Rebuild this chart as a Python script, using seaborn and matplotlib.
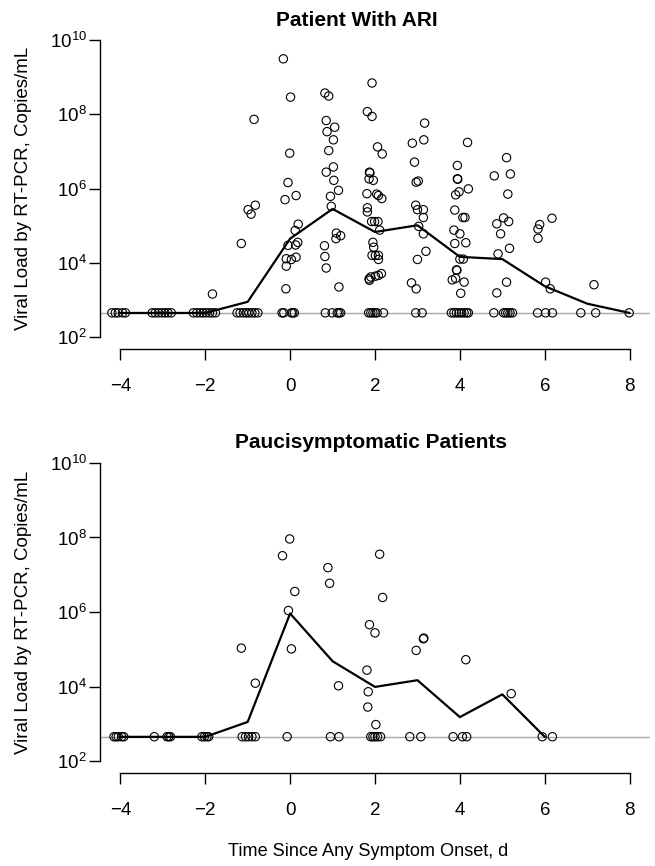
import numpy as np
import pandas as pd
import matplotlib
matplotlib.use("Agg")
import matplotlib.pyplot as plt
import seaborn as sns

# ---------------- data ----------------
LOD = 450  # limit of detection line (copies/mL)

# Patient With ARI: detected samples (day, log10 copies/mL)
ari_day = [-1.83,
           -0.85, -0.82, -0.99, -0.92, -1.15,
           -0.16, 0.01, -0.01, -0.05, -0.12, 0.14, 0.19, 0.12, -0.05, 0.18, 0.13, -0.09, 0.03, 0.14, -0.09, -0.10,
           0.82, 0.91, 0.85, 1.05, 0.87, 1.02, 0.91, 1.02, 0.85, 1.03, 1.14, 0.95, 0.97, 1.09, 1.19, 1.08, 0.81, 0.82, 0.85, 1.15,
           1.93, 1.82, 1.93, 2.06, 2.17, 1.87, 1.88, 1.86, 1.96, 1.81, 2.04, 2.08, 2.16, 1.82, 1.82, 1.92, 1.99, 2.07, 2.11, 1.95,
           1.97, 1.93, 2.01, 2.08, 2.08, 2.15, 2.08, 2.01, 1.90, 1.86, 1.87,
           3.17, 2.88, 3.15, 2.93, 2.97, 3.02, 2.96, 3.00, 3.14, 3.14, 3.03, 3.14, 3.20, 3.00, 2.86, 2.97,
           4.18, 3.94, 3.94, 3.95, 4.20, 3.98, 3.90, 3.88, 4.07, 4.12, 3.86, 4.00, 3.88, 4.14, 4.00, 4.08, 3.92, 3.93, 3.90, 3.82,
           4.10, 4.02,
           5.10, 4.81, 5.19, 5.13, 5.03, 4.87, 5.15, 4.96, 5.17, 4.90, 5.10, 4.87,
           6.17, 5.88, 5.84, 5.84, 6.02, 6.13,
           7.16]
ari_log10 = [3.16,
             7.86, 5.55, 5.43, 5.31, 4.52,
             9.49, 8.46, 6.95, 6.16, 5.70, 5.81, 5.04, 4.87, 4.47, 4.55, 4.48, 4.11, 4.09, 4.15, 3.91, 3.30,
             8.57, 8.49, 7.83, 7.65, 7.53, 7.31, 7.02, 6.58, 6.44, 6.22, 5.95, 5.79, 5.52, 4.80, 4.73, 4.65, 4.46, 4.17, 3.86, 3.35,
             8.84, 8.07, 7.94, 7.12, 6.93, 6.44, 6.42, 6.26, 6.22, 5.86, 5.85, 5.81, 5.73, 5.48, 5.37, 5.11, 5.11, 5.11, 4.88, 4.55,
             4.42, 4.20, 4.20, 4.20, 4.09, 3.71, 3.66, 3.64, 3.62, 3.57, 3.53,
             7.76, 7.22, 7.31, 6.71, 6.17, 6.20, 5.55, 5.43, 5.43, 5.22, 4.98, 4.78, 4.31, 4.09, 3.46, 3.30,
             7.24, 6.62, 6.26, 6.25, 5.99, 5.91, 5.83, 5.42, 5.22, 5.22, 4.88, 4.78, 4.52, 4.54, 4.10, 4.10, 3.81, 3.80, 3.58, 3.54,
             3.48, 3.18,
             6.83, 6.34, 6.39, 5.85, 5.21, 5.05, 5.11, 4.78, 4.39, 4.24, 3.48, 3.19,
             5.20, 5.03, 4.91, 4.66, 3.48, 3.30,
             3.41]
# Patient With ARI: samples below detection (plotted at LOD)
ari_nd_day = [-4.20, -4.12, -4.05, -3.95, -3.88,
              -3.25, -3.18, -3.10, -3.02, -2.95, -2.88, -2.80,
              -2.28, -2.20, -2.12, -2.05, -1.98, -1.90, -1.83, -1.76,
              -1.25, -1.18, -1.10, -1.03, -0.97, -0.90, -0.83, -0.76,
              -0.19, -0.15, 0.03, 0.06, 0.10,
              0.83, 0.99, 1.11, 1.15, 1.19,
              1.85, 1.90, 1.95, 2.00, 2.05, 2.20,
              2.96, 3.11,
              3.80, 3.86, 3.92, 3.98, 4.04, 4.10, 4.16, 4.20,
              4.80, 5.03, 5.08, 5.13, 5.18, 5.24,
              5.83, 6.02, 6.18,
              6.85, 7.20,
              7.99]
# Patient With ARI: median by day
ari_med_day = [-4, -3, -2, -1, 0, 1, 2, 3, 4, 5, 6, 7, 8]
ari_med_log10 = [2.65, 2.65, 2.65, 2.95, 4.65, 5.45, 4.83, 5.01, 4.16, 4.10, 3.37, 2.90, 2.65]

# Paucisymptomatic Patients: detected samples
pau_day = [-1.15, -0.82, -0.01, -0.18, 0.11, -0.04, 0.03, 0.89, 0.93, 1.14,
           2.11, 2.18, 1.87, 2.00, 1.81, 1.84, 1.83, 2.02, 3.15, 3.14, 2.97, 4.14, 5.21]
pau_log10 = [5.03, 4.09, 7.96, 7.51, 6.55, 6.04, 5.01, 7.19, 6.77, 4.02,
             7.55, 6.39, 5.66, 5.44, 4.44, 3.86, 3.45, 2.98, 5.30, 5.28, 4.97, 4.72, 3.81]
pau_nd_day = [-4.15, -4.10, -4.05, -3.97, -3.92, -3.20, -2.90, -2.86, -2.82,
              -2.08, -2.02, -1.96, -1.92, -1.13, -1.05, -0.98, -0.90, -0.82,
              -0.07, 0.95, 1.15, 1.90, 1.95, 2.00, 2.06, 2.13, 2.82, 3.08,
              3.84, 4.06, 4.16, 5.94, 6.18]
pau_med_day = [-4, -3, -2, -1, 0, 1, 2, 3, 4, 5, 6]
pau_med_log10 = [2.65, 2.65, 2.65, 3.05, 5.96, 4.68, 3.99, 4.17, 3.18, 3.79, 2.65]

x_ticks = [-4, -2, 0, 2, 4, 6, 8]
y_ticks = [1e2, 1e4, 1e6, 1e8, 1e10]

titles = ["Patient With ARI", "Paucisymptomatic Patients"]
ylabel = "Viral Load by RT-PCR, Copies/mL"
xlabel = "Time Since Any Symptom Onset, d"

# ---------------- drawing ----------------
sns.set_style("white")
plt.rcParams['font.family'] = ['Liberation Sans', 'DejaVu Sans']
plt.rcParams['mathtext.fontset'] = 'custom'
plt.rcParams['mathtext.rm'] = 'Liberation Sans'
plt.rcParams['mathtext.it'] = 'Liberation Sans:italic'
plt.rcParams['mathtext.bf'] = 'Liberation Sans:bold'

W, H = 655, 866
fig = plt.figure(figsize=(W / 100, H / 100), dpi=100)

panels = [
    dict(rect=[100 / W, 1 - 349 / H, 550 / W, 321 / H], day=ari_day, lg=ari_log10, nd=ari_nd_day,
         mday=ari_med_day, mlg=ari_med_log10, title=titles[0], tx=357, ty=21, ycen=188.5),
    dict(rect=[100 / W, 1 - 773 / H, 550 / W, 322 / H], day=pau_day, lg=pau_log10, nd=pau_nd_day,
         mday=pau_med_day, mlg=pau_med_log10, title=titles[1], tx=371, ty=442, ycen=612),
]

for p in panels:
    ax = fig.add_axes(p["rect"])
    ax.set_yscale("log")
    ax.set_xlim(-4.48, 8.48)
    ax.set_ylim(10 ** 1.68, 10 ** 10.32)
    ax.axhline(LOD, color="#a8a8a8", lw=1.0, zorder=1)

    det = pd.DataFrame({"day": p["day"], "load": 10 ** np.array(p["lg"])})
    nd = pd.DataFrame({"day": p["nd"], "load": [LOD] * len(p["nd"])})
    pts = pd.concat([det, nd], ignore_index=True)
    sns.scatterplot(data=pts, x="day", y="load", ax=ax, marker="o", s=36,
                    color="black", linewidth=0.8, zorder=3, legend=False)
    coll = ax.collections[-1]
    coll.set_facecolor("none")
    coll.set_edgecolor("black")

    med = pd.DataFrame({"day": p["mday"], "load": 10 ** np.array(p["mlg"])})
    sns.lineplot(data=med, x="day", y="load", ax=ax, color="black", lw=1.6, zorder=4)

    for s in ["top", "right"]:
        ax.spines[s].set_visible(False)
    for s in ["left", "bottom"]:
        ax.spines[s].set_color("black")
        ax.spines[s].set_linewidth(1.0)
    ax.spines["left"].set_bounds(1e2, 1e10)
    ax.spines["bottom"].set_bounds(-4, 8)
    ax.set_xticks(x_ticks)
    ax.set_xticklabels([str(t).replace("-", "\u2212") for t in x_ticks])
    ax.set_yticks(y_ticks)
    ax.yaxis.set_minor_locator(matplotlib.ticker.NullLocator())
    ax.tick_params(axis="both", which="major", direction="out", length=8, width=1.0,
                   color="black", labelsize=13.5, labelcolor="black",
                   left=True, bottom=True, top=False, right=False)
    ax.tick_params(axis="y", pad=1.5)
    ax.tick_params(axis="x", pad=13)
    ax.set_xlabel("")
    ax.set_ylabel("")
    ax.grid(False)

    fig.text(p["tx"] / W, 1 - p["ty"] / H, p["title"], ha="center", va="center",
             fontsize=15, fontweight="bold", color="black")
    fig.text(24 / W, 1 - p["ycen"] / H, ylabel, rotation=90, ha="center", va="center",
             fontsize=13.5, color="black")

fig.text(368 / W, 1 - 852 / H, xlabel, ha="center", va="center", fontsize=13.1, color="black")

fig.savefig("out.png", dpi=100, facecolor="white")
